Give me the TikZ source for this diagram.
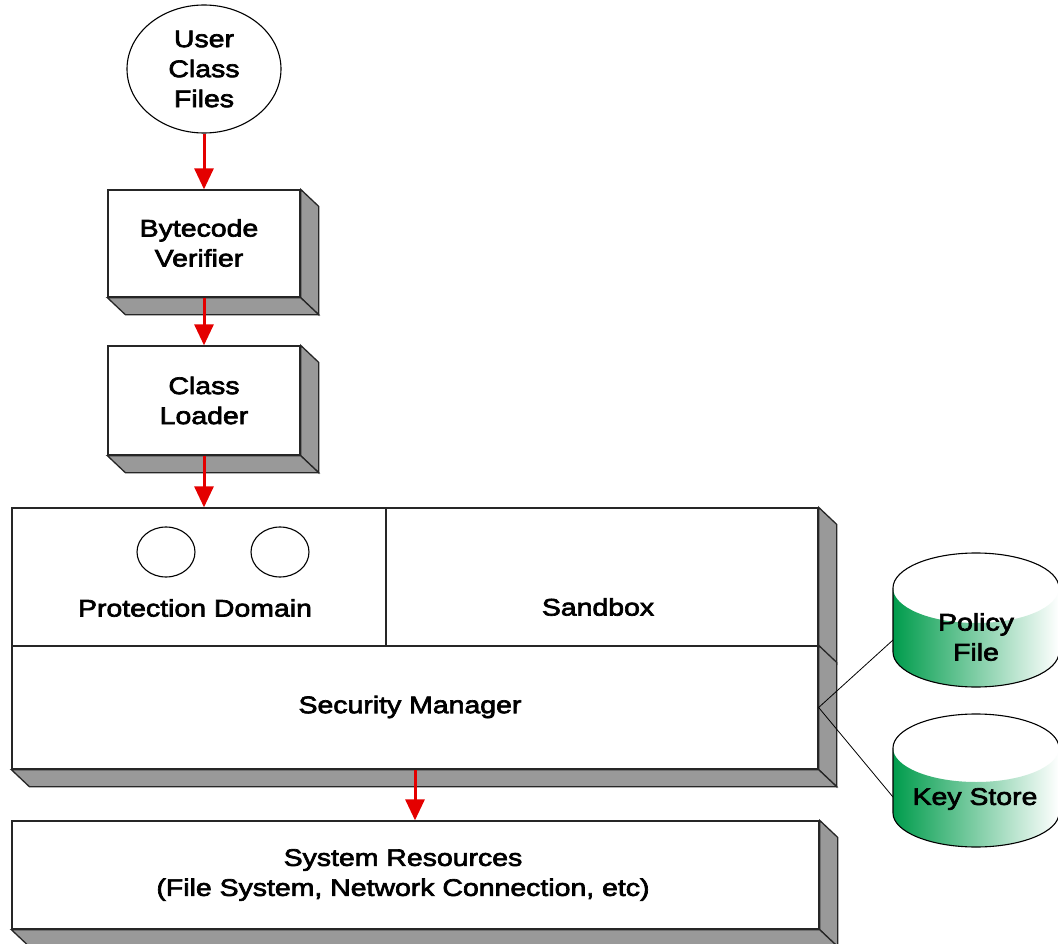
\documentclass[tikz,border=0pt]{standalone}
\usepackage{fontspec}
\setmainfont{Liberation Sans}[FakeStretch=1.185, FakeBold=2.8]
\usetikzlibrary{arrows.meta,shapes.geometric}
\definecolor{slabgray}{RGB}{153,153,153}
\definecolor{arrowred}{RGB}{228,0,0}
\definecolor{cylgreen}{RGB}{0,156,76}

% right-hand and bottom faces of a raised slab
\newcommand\slabside[1]{%
  \filldraw[side] (#1.north east) -- ++(18,17) -- ([shift={(18,17)}]#1.south east) -- (#1.south east) -- cycle;}
\newcommand\slabbase[1]{%
  \filldraw[side] (#1.south west) -- ++(18,17) -- ([shift={(18,17)}]#1.south east) -- (#1.south east) -- cycle;}
% shaded drum: centre x, top y, x radius, y radius, height
\newcommand\drum[5]{%
  \fill[white] (#1,#2) ellipse[x radius=#3, y radius=#4];
  \path[left color=cylgreen, middle color=cylgreen!68!white, right color=white]
    (#1-#3,#2) -- (#1-#3,#2+#5) arc[start angle=180, end angle=0, x radius=#3, y radius=#4]
    -- (#1+#3,#2) arc[start angle=0, end angle=180, x radius=#3, y radius=#4] -- cycle;
  \draw[drumline] (#1+#3,#2) arc[start angle=0, end angle=-180, x radius=#3, y radius=#4]
    -- (#1-#3,#2+#5) arc[start angle=180, end angle=0, x radius=#3, y radius=#4]
    -- (#1+#3,#2);}

\begin{document}
\begin{tikzpicture}[x=1pt, y=-1pt,
  every node/.style={font=\fontsize{24}{30}\selectfont, align=center, inner sep=0pt},
  front/.style={draw=black!85, line width=1.3pt, fill=white, rectangle},
  side/.style={draw=black!85, line width=1.3pt, fill=slabgray, line join=miter},
  flow/.style={draw=arrowred, line width=3pt, -{Triangle[length=21pt, width=19pt, fill=arrowred]}},
  wire/.style={draw=black, line width=0.8pt},
  oval/.style={draw=black, line width=1.1pt, ellipse, fill=white},
  drumline/.style={draw=black, line width=1.1pt},
]
\useasboundingbox (0,0) rectangle (1058,944);
\clip (0,0) rectangle (1058,944);

% source files
\node[oval, minimum width=154pt, minimum height=128pt] (ucf) at (204,69) {User\\Class\\Files};

% verifier and loader
\node[front, minimum width=192pt, minimum height=107pt] (bv) at (204,243.5) {};
\slabside{bv}\slabbase{bv}
\node (bvlabel) at (199,243) {Bytecode\\Verifier};
\node[front, minimum width=192pt, minimum height=109pt] (cl) at (204,400.5) {Class\\Loader};
\slabside{cl}\slabbase{cl}

% protection domain and sandbox
\node[front, minimum width=374pt, minimum height=138pt] (pd) at (199,577) {};
\node[front, minimum width=432pt, minimum height=138pt] (sb) at (602,577) {};
\slabside{sb}
\node[oval, minimum width=58pt, minimum height=50pt] (pc1) at (166,552) {};
\node[oval, minimum width=58pt, minimum height=50pt] (pc2) at (280,552) {};
\node (pdlabel) at (195,608) {Protection Domain};
\node (sblabel) at (598,607) {Sandbox};

% security manager
\node[front, minimum width=806pt, minimum height=123pt] (sm) at (415,707.5) {};
\slabside{sm}\slabbase{sm}
\node (smlabel) at (410,707) {Security Manager};

% system resources
\node[front, minimum width=807pt, minimum height=108pt] (sr) at (415.5,875) {};
\slabside{sr}\slabbase{sr}
\node (srlabel) at (403,875) {System Resources\\(File System, Network Connection, etc)};

% flow arrows
\draw[flow] (ucf.south) -- (bv.north);
\draw[flow] (bv.south) -- (cl.north);
\draw[flow] (cl.south) -- (cl.south |- pd.north);
\draw[flow] (sm.south) -- (sm.south |- sr.north);

% policy file and key store
\coordinate (pfport) at (893,640);
\coordinate (ksport) at (893,797);
\draw[wire] (sm.east) -- (pfport);
\draw[wire] (sm.east) -- (ksport);
\drum{976}{588}{83}{35}{64}
\drum{976}{748}{83}{34}{65}
\node (pflabel) at (976,637) {Policy\\File};
\node (kslabel) at (975,799) {Key Store};
\end{tikzpicture}
\end{document}
